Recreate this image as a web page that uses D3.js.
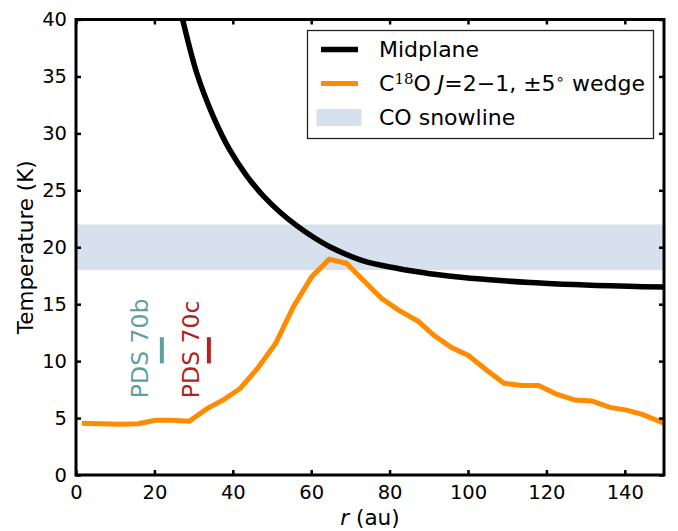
<!DOCTYPE html>
<html>
<head>
<meta charset="utf-8">
<script src="https://cdn.jsdelivr.net/npm/d3@7"></script>
<style>
  body { margin: 0; background: #fff; }
  svg { display: block; }
  text { font-family: "DejaVu Sans", sans-serif; fill: #000; }
</style>
</head>
<body>
<svg id="chart" width="678" height="531"></svg>
<script>
// Midplane temperature profile (r in au, T in K)
const midplaneR = [25.5, 27.2, 30.8, 35.0, 39.3, 43.5, 47.8, 52.0, 56.3, 60.5, 65.0, 73.3, 81.8, 90.3, 98.8, 107.3, 115.8, 124.3, 132.8, 141.0, 150.0];
const midplaneT = [42.6, 40.0, 35.3, 31.5, 28.5, 26.3, 24.5, 23.1, 21.9, 20.9, 20.0, 18.8, 18.15, 17.68, 17.35, 17.1, 16.9, 16.76, 16.65, 16.57, 16.5];

// C18O J=2-1 brightness temperature along a ±5° wedge
const c18oR = [1.5, 11.2, 15.9, 20.2, 24.4, 28.9, 33.5, 37.6, 41.9, 46.4, 51.0, 55.5, 60.1, 64.6, 69.0, 73.3, 78.0, 82.2, 87.3, 91.2, 95.8, 100.1, 104.8, 109.2, 113.7, 118.0, 122.6, 127.3, 131.6, 136.2, 140.5, 144.6, 150.0];
const c18oT = [4.55, 4.45, 4.5, 4.8, 4.8, 4.72, 5.85, 6.6, 7.6, 9.4, 11.6, 14.8, 17.4, 18.95, 18.6, 17.1, 15.5, 14.5, 13.5, 12.3, 11.2, 10.5, 9.2, 8.05, 7.87, 7.87, 7.1, 6.58, 6.5, 5.94, 5.7, 5.3, 4.55];

// CO snowline temperature range (K)
const snowline = [18, 22];

// Planet markers: radius, label anchor radius, colour
const planetNames = ["PDS 70b", "PDS 70c"];
const planetR = [21.9, 33.9];
const planetLabelR = [18.4, 31.3];
const planetColors = ["#5f9ea0", "#b22222"];
const planetBarT = [9.8, 12.1];
const planetLabelT = 6.75;

const xTicks = [0, 20, 40, 60, 80, 100, 120, 140];
const yTicks = [0, 5, 10, 15, 20, 25, 30, 35, 40];
const xDomain = [0, 150];
const yDomain = [0, 40];

const margin = { left: 76, right: 14, top: 19.5, bottom: 56 };
const W = 678, H = 531;
const svg = d3.select("#chart");

const x = d3.scaleLinear().domain(xDomain).range([margin.left, W - margin.right]);
const y = d3.scaleLinear().domain(yDomain).range([H - margin.bottom, margin.top]);

svg.append("defs").append("clipPath").attr("id", "plot-clip")
  .append("rect")
  .attr("x", x(0)).attr("y", y(40))
  .attr("width", x(150) - x(0)).attr("height", y(0) - y(40));

const plot = svg.append("g").attr("clip-path", "url(#plot-clip)");

// snowline band
plot.append("rect")
  .attr("x", x(0)).attr("width", x(150) - x(0))
  .attr("y", y(snowline[1])).attr("height", y(snowline[0]) - y(snowline[1]))
  .attr("fill", "#b0c4de").attr("fill-opacity", 0.5);

// midplane curve
const midLine = d3.line().x(d => x(d[0])).y(d => y(d[1])).curve(d3.curveCatmullRom.alpha(0.5));
plot.append("path")
  .datum(midplaneR.map((r, i) => [r, midplaneT[i]]))
  .attr("d", midLine)
  .attr("fill", "none").attr("stroke", "#000").attr("stroke-width", 5.5);

// C18O profile
const coLine = d3.line().x(d => x(d[0])).y(d => y(d[1]));
plot.append("path")
  .datum(c18oR.map((r, i) => [r, c18oT[i]]))
  .attr("d", coLine)
  .attr("fill", "none").attr("stroke", "#ff8c00").attr("stroke-width", 5)
  .attr("stroke-linejoin", "miter");

// planet markers and labels
planetNames.forEach((name, i) => {
  plot.append("line")
    .attr("x1", x(planetR[i])).attr("x2", x(planetR[i]))
    .attr("y1", y(planetBarT[0])).attr("y2", y(planetBarT[1]))
    .attr("stroke", planetColors[i]).attr("stroke-width", 4);
  svg.append("text")
    .attr("transform", `translate(${x(planetLabelR[i])},${y(planetLabelT)}) rotate(-90)`)
    .attr("text-anchor", "start")
    .style("font-size", "23.5px")
    .style("fill", planetColors[i])
    .text(name);
});

// axes: inward ticks on all four sides
const tickLen = 5;
const axisStyle = g => {
  g.select(".domain").remove();
  g.selectAll(".tick line").attr("stroke", "#000").attr("stroke-width", 2.5);
  g.selectAll(".tick text").style("font-size", "19.5px").style("font-family", "DejaVu Sans, sans-serif").attr("fill", "#000");
};
svg.append("g").attr("transform", `translate(0,${y(0)})`)
  .call(d3.axisBottom(x).tickValues(xTicks).tickFormat(d3.format("d")).tickSizeInner(-tickLen).tickSizeOuter(0).tickPadding(10))
  .call(axisStyle)
  .selectAll(".tick text").attr("dy", "0.71em");
svg.append("g").attr("transform", `translate(0,${y(40)})`)
  .call(d3.axisTop(x).tickValues(xTicks).tickFormat("").tickSizeInner(-tickLen).tickSizeOuter(0))
  .call(axisStyle);
svg.append("g").attr("transform", `translate(${x(0)},0)`)
  .call(d3.axisLeft(y).tickValues(yTicks).tickFormat(d3.format("d")).tickSizeInner(-tickLen).tickSizeOuter(0).tickPadding(9))
  .call(axisStyle);
svg.append("g").attr("transform", `translate(${x(150)},0)`)
  .call(d3.axisRight(y).tickValues(yTicks).tickFormat("").tickSizeInner(-tickLen).tickSizeOuter(0))
  .call(axisStyle);

// frame
svg.append("rect")
  .attr("x", x(0)).attr("y", y(40))
  .attr("width", x(150) - x(0)).attr("height", y(0) - y(40))
  .attr("fill", "none").attr("stroke", "#000").attr("stroke-width", 3);

// axis titles
const xTitle = svg.append("text")
  .attr("x", (x(0) + x(150)) / 2).attr("y", 525)
  .attr("text-anchor", "middle").style("font-size", "21.5px");
xTitle.append("tspan").style("font-style", "italic").text("r");
xTitle.append("tspan").text(" (au)");

svg.append("text")
  .attr("transform", `translate(33,${(y(0) + y(40)) / 2}) rotate(-90)`)
  .attr("text-anchor", "middle").style("font-size", "21.5px")
  .text("Temperature (K)");

// legend
const lg = svg.append("g");
lg.append("rect")
  .attr("x", 307.5).attr("y", 30.5).attr("width", 346).attr("height", 108)
  .attr("fill", "#fff").attr("stroke", "#222").attr("stroke-width", 1.3);
const lx0 = 321, lx1 = 358, ltx = 379;
const rows = [49.5, 83.5, 117.5];
lg.append("line").attr("x1", lx0).attr("x2", lx1).attr("y1", rows[0]).attr("y2", rows[0])
  .attr("stroke", "#000").attr("stroke-width", 5.5);
lg.append("line").attr("x1", lx0).attr("x2", lx1).attr("y1", rows[1]).attr("y2", rows[1])
  .attr("stroke", "#ff8c00").attr("stroke-width", 5);
lg.append("rect").attr("x", 316.5).attr("y", rows[2] - 8.5).attr("width", 45).attr("height", 17)
  .attr("fill", "#b0c4de").attr("fill-opacity", 0.5);

const lfs = "22px";
lg.append("text").attr("x", ltx).attr("y", rows[0]).attr("dy", "0.36em").style("font-size", lfs).text("Midplane");
const t2 = lg.append("text").attr("x", ltx).attr("y", rows[1]).attr("dy", "0.36em").style("font-size", lfs);
t2.append("tspan").text("C");
t2.append("tspan").attr("dy", "-7").style("font-size", "15px").style("font-family", "DejaVu Serif, serif").text("18");
t2.append("tspan").attr("dy", "7").text("O ");
t2.append("tspan").style("font-style", "italic").text("J");
t2.append("tspan").text("=2\u22121, \u00b15");
t2.append("tspan").attr("dy", "-7").style("font-size", "15px").text("\u2218");
t2.append("tspan").attr("dy", "7").text(" wedge");
lg.append("text").attr("x", ltx).attr("y", rows[2]).attr("dy", "0.36em").style("font-size", lfs).text("CO snowline");
</script>
</body>
</html>
